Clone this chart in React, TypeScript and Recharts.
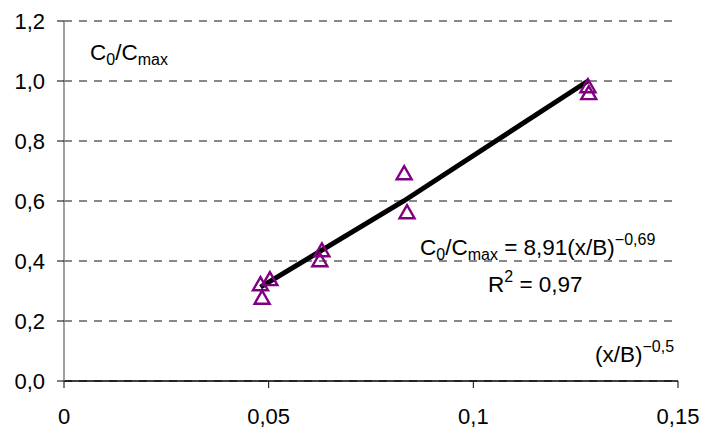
import { ComposedChart, Scatter, Line, XAxis, YAxis, CartesianGrid } from "recharts";

// measured points: x = (x/B)^-0.5, y = C0/Cmax
const xValues = [0.048, 0.0503, 0.0484, 0.063, 0.0625, 0.0831, 0.0838, 0.128, 0.1282];
const yValues = [0.32, 0.337, 0.275, 0.433, 0.4, 0.69, 0.56, 0.98, 0.957];

// fitted curve
const fitX = [0.048, 0.083, 0.128];
const fitY = [0.313, 0.6, 1.0];

const xTicks = [0, 0.05, 0.1, 0.15];
const yTicks = [0, 0.2, 0.4, 0.6, 0.8, 1.0, 1.2];

const points = xValues.map((x, i) => ({ x, y: yValues[i] }));
const fit = fitX.map((x, i) => ({ x, y: fitY[i] }));

const W = 704;
const H = 432;
const font = "'Liberation Sans', Arial, sans-serif";
const PURPLE = "#800080";

const fmtX = (v: number) => (v === 0 ? "0" : String(v).replace(".", ","));
const fmtY = (v: number) => v.toFixed(1).replace(".", ",");

const Triangle = (props: any) => {
  const { cx, cy } = props;
  if (cx == null || cy == null) return null;
  const w = 7.5;
  const h = 13;
  const p = `${cx},${cy - h * 0.6} ${cx + w},${cy + h * 0.4} ${cx - w},${cy + h * 0.4}`;
  return <polygon points={p} fill="none" stroke={PURPLE} strokeWidth={2.4} strokeLinejoin="miter" />;
};

export default function App() {
  return (
    <div style={{ position: "absolute", left: 0, top: 0, width: W, height: H, background: "#fff", fontFamily: font }}>
      <ComposedChart width={W} height={H} margin={{ top: 21, right: 26, left: 4, bottom: 21 }}>
        <CartesianGrid vertical={false} stroke="#101010" strokeDasharray="8 7" />
        <XAxis
          type="number"
          dataKey="x"
          domain={[0, 0.15]}
          ticks={xTicks}
          tickFormatter={fmtX}
          axisLine={{ stroke: "#000", strokeWidth: 1.5 }}
          tickLine={{ stroke: "#000" }}
          tickSize={7}
          tickMargin={20}
          height={30}
          tick={{ fill: "#000", fontSize: 22, fontFamily: font }}
        />
        <YAxis
          type="number"
          dataKey="y"
          domain={[0, 1.2]}
          ticks={yTicks}
          tickFormatter={fmtY}
          axisLine={{ stroke: "#808080", strokeWidth: 1.5 }}
          tickLine={{ stroke: "#000" }}
          tickSize={7}
          tickMargin={12}
          width={60}
          tick={{ fill: "#000", fontSize: 22, fontFamily: font }}
        />
        <Line
          data={fit}
          dataKey="y"
          type="linear"
          stroke="#000"
          strokeWidth={5}
          dot={false}
          activeDot={false}
          isAnimationActive={false}
        />
        <Scatter data={points} dataKey="y" shape={<Triangle />} isAnimationActive={false} />
      </ComposedChart>
      <svg width={W} height={H} style={{ position: "absolute", left: 0, top: 0, pointerEvents: "none" }}>
        <g fontFamily={font} fontSize={22.5} fill="#000">
          <text x={90} y={60}>
            C<tspan fontSize={16} dy={5}>0</tspan>
            <tspan dy={-5}>/C</tspan>
            <tspan fontSize={16} dy={5}>max</tspan>
          </text>
          <text x={420} y={255} xmlSpace="preserve">
            C<tspan fontSize={16} dy={5}>0</tspan>
            <tspan dy={-5}>/C</tspan>
            <tspan fontSize={16} dy={5}>max</tspan>
            <tspan dy={-5}> = 8,91(x/B)</tspan>
            <tspan fontSize={16} dy={-10}>−0,69</tspan>
          </text>
          <text x={488} y={292} xmlSpace="preserve">
            R<tspan fontSize={16} dy={-10}>2</tspan>
            <tspan dy={10}> = 0,97</tspan>
          </text>
          <text x={595} y={362}>
            (x/B)<tspan fontSize={16} dy={-10}>−0,5</tspan>
          </text>
        </g>
      </svg>
    </div>
  );
}
